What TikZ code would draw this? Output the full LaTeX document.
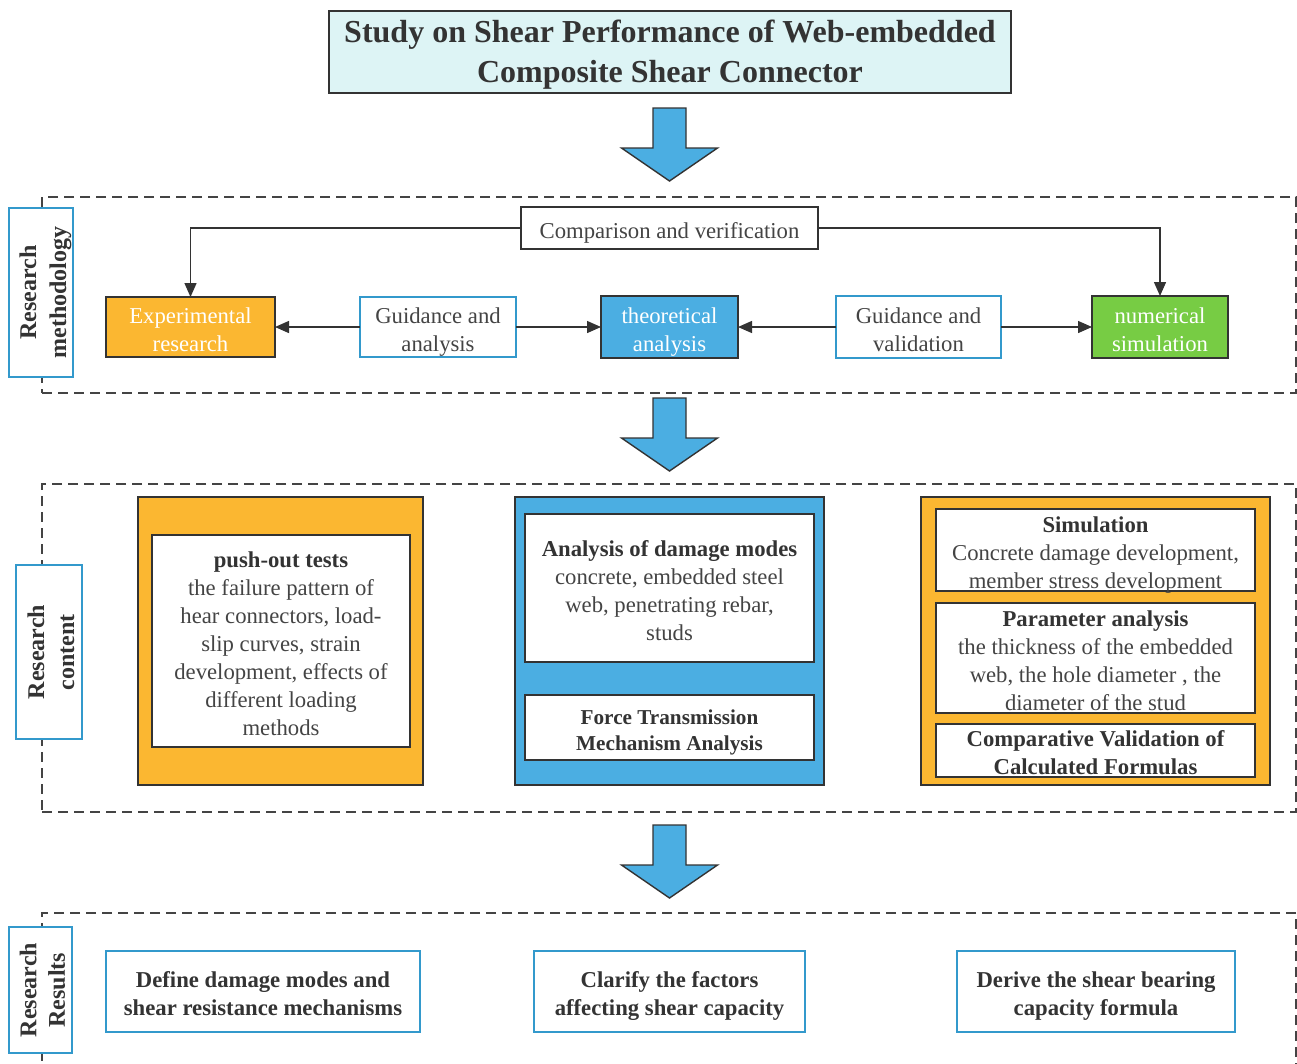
\documentclass[tikz,border=0pt]{standalone}
\usepackage{fontspec}
\setmainfont{Liberation Serif}
\usetikzlibrary{arrows.meta}
\definecolor{orng}{HTML}{FBB731}
\definecolor{skyb}{HTML}{4BAEE2}
\definecolor{grn}{HTML}{77CC44}
\definecolor{cyanbg}{HTML}{DDF4F5}
\definecolor{labblue}{HTML}{3399CC}
\definecolor{dk}{HTML}{333333}
\definecolor{txt}{HTML}{444444}
\newcommand\fsz[2]{\fontsize{#1}{#2}\selectfont}
\newcommand\tstr{\rule{0pt}{26pt}}
\newcommand\bstr{\rule[-6pt]{0pt}{6pt}}
\newcommand\tstrT{\rule{0pt}{30pt}}
\newcommand\bstrT{\rule[-9pt]{0pt}{9pt}}
\newcommand\tstrL{\rule{0pt}{27pt}}
\newcommand\bstrL{\rule[-7pt]{0pt}{7pt}}
\begin{document}
\begin{tikzpicture}[x=1pt,y=-1pt,
  base/.style={inner sep=0pt, outer sep=0pt, align=center, text=txt, font=\fsz{22.7}{28}},
  darkbox/.style={base, draw=dk, line width=1.8pt, fill=white},
  bluebox/.style={base, draw=labblue, line width=1.6pt, fill=white},
  colbox/.style={base, draw=dk, line width=1.6pt, text=white},
  lab/.style={base, draw=labblue, line width=2pt, fill=white, rotate=90, text=dk, font=\fsz{24}{30}\bfseries},
  sect/.style={draw=txt, line width=2pt, dash pattern=on 10pt off 6pt, inner sep=0pt},
  conn/.style={draw=dk, line width=1.4pt},
  arr/.style={conn, -{Triangle[length=14pt,width=12pt]}},
  resbox/.style={bluebox, line width=2pt, text=dk, font=\fsz{22.7}{28}\bfseries},
  bigarr/.pic={\draw[fill=skyb, draw=dk, line width=1.4pt, line join=miter]
     (-16.5,0) -- (16.5,0) -- (16.5,40) -- (48,40) -- (0,73) -- (-48,40) -- (-16.5,40) -- cycle;}
]
\useasboundingbox (0,0) rectangle (1297,1063);
\fill[white] (0,0) rectangle (1297,1063);

% title
\node[darkbox, fill=cyanbg, line width=2pt, text=dk, font=\fsz{32}{39.5}\bfseries,
  minimum width=682pt, minimum height=82pt] (title) at (670,52)
  {\tstrT Study on Shear Performance of Web-embedded\\Composite Shear Connector\bstrT};

\pic at (669.5,108) {bigarr};

% ---------------- Research methodology
\node[sect, minimum width=1254pt, minimum height=196pt] (sec1) at (669,295) {};
\node[lab, minimum width=169pt, minimum height=64pt] (lab1) at (41,292.5) {\tstrL Research\\methodology\bstrL};

\node[darkbox, line width=1.6pt, minimum width=297pt, minimum height=42pt] (cmp) at (669.5,228) {\tstr Comparison and verification\bstr};
\node[colbox, fill=orng, minimum width=169pt, minimum height=60pt] (exp) at (190.5,327) {\tstr Experimental\\research\bstr};
\node[bluebox, minimum width=156pt, minimum height=60pt] (ga) at (438,327) {\tstr Guidance and\\analysis\bstr};
\node[colbox, fill=skyb, minimum width=137pt, minimum height=62pt] (theo) at (669.5,327) {\tstr theoretical\\analysis\bstr};
\node[bluebox, minimum width=165pt, minimum height=62pt] (gv) at (918.5,327) {\tstr Guidance and\\validation\bstr};
\node[colbox, fill=grn, minimum width=136pt, minimum height=62pt] (num) at (1160,327) {\tstr numerical\\simulation\bstr};

\draw[arr] (cmp.west) -| (exp.north);
\draw[arr] (cmp.east) -| (num.north);
\draw[arr] (ga.west) -- (exp.east);
\draw[arr] (ga.east) -- (theo.west);
\draw[arr] (gv.west) -- (theo.east);
\draw[arr] (gv.east) -- (num.west);

\pic at (669.5,398) {bigarr};

% ---------------- Research content
\node[sect, minimum width=1254pt, minimum height=328pt] (sec2) at (669,648) {};
\node[lab, minimum width=174pt, minimum height=66pt] (lab2) at (49,652) {\tstrL Research\\content\bstrL};

\node[colbox, fill=orng, line width=1.2pt, minimum width=285pt, minimum height=288pt] (ob1) at (280.5,641) {};
\node[darkbox, minimum width=258pt, minimum height=212pt] (ib1) at (281,641)
  {\tstr\textbf{\color{dk}push-out tests}\\the failure pattern of\\hear connectors, load-\\slip curves, strain\\development, effects of\\different loading\\methods\bstr};

\node[colbox, fill=skyb, line width=1.2pt, minimum width=309pt, minimum height=288pt] (ob2) at (669.5,641) {};
\node[darkbox, minimum width=289pt, minimum height=148pt] (bi1) at (669.5,588)
  {\tstr\textbf{\color{dk}Analysis of damage modes}\\concrete, embedded steel\\web, penetrating rebar,\\studs\bstr};
\node[darkbox, text=dk, font=\fsz{21.2}{26}\bfseries, minimum width=289pt, minimum height=65pt] (bi2) at (669.5,727.5)
  {\tstr Force Transmission\\Mechanism Analysis\bstr};

\node[colbox, fill=orng, line width=1.2pt, minimum width=349pt, minimum height=288pt] (ob3) at (1095.5,641) {};
\node[darkbox, minimum width=319pt, minimum height=82pt] (s1) at (1095.5,550) {};
\node[base] (s1t) at (s1.center)
  {\tstr\textbf{\color{dk}Simulation}\\Concrete damage development,\\member stress development\bstr};
\node[darkbox, minimum width=319pt, minimum height=110pt] (s2) at (1095.5,658) {};
\node[base] (s2t) at (s2.center)
  {\tstr\textbf{\color{dk}Parameter analysis}\\the thickness of the embedded\\web, the hole diameter , the\\diameter of the stud\bstr};
\node[darkbox, minimum width=319pt, minimum height=53pt] (s3) at (1095.5,750.5) {};
\node[base, text=dk, font=\fsz{22.7}{28}\bfseries] (s3t) at (s3.center)
  {\tstr Comparative Validation of\\Calculated Formulas\bstr};

\pic at (669.5,825) {bigarr};

% ---------------- Research results
\node[sect, minimum width=1254pt, minimum height=170pt] (sec3) at (669,998) {};
\node[lab, font=\fsz{24}{28.5}\bfseries, minimum width=126pt, minimum height=59pt] (lab3) at (40.5,990) {\tstrL Research\\Results\bstrL};

\node[resbox, minimum width=314pt, minimum height=81pt] (d1) at (263,991.5)
  {\tstr Define damage modes and\\shear resistance mechanisms\bstr};
\node[resbox, minimum width=271pt, minimum height=81pt] (d2) at (669.5,991.5)
  {\tstr Clarify the factors\\affecting shear capacity\bstr};
\node[resbox, minimum width=278pt, minimum height=81pt] (d3) at (1096,991.5)
  {\tstr Derive the shear bearing\\capacity formula\bstr};
\end{tikzpicture}
\end{document}
